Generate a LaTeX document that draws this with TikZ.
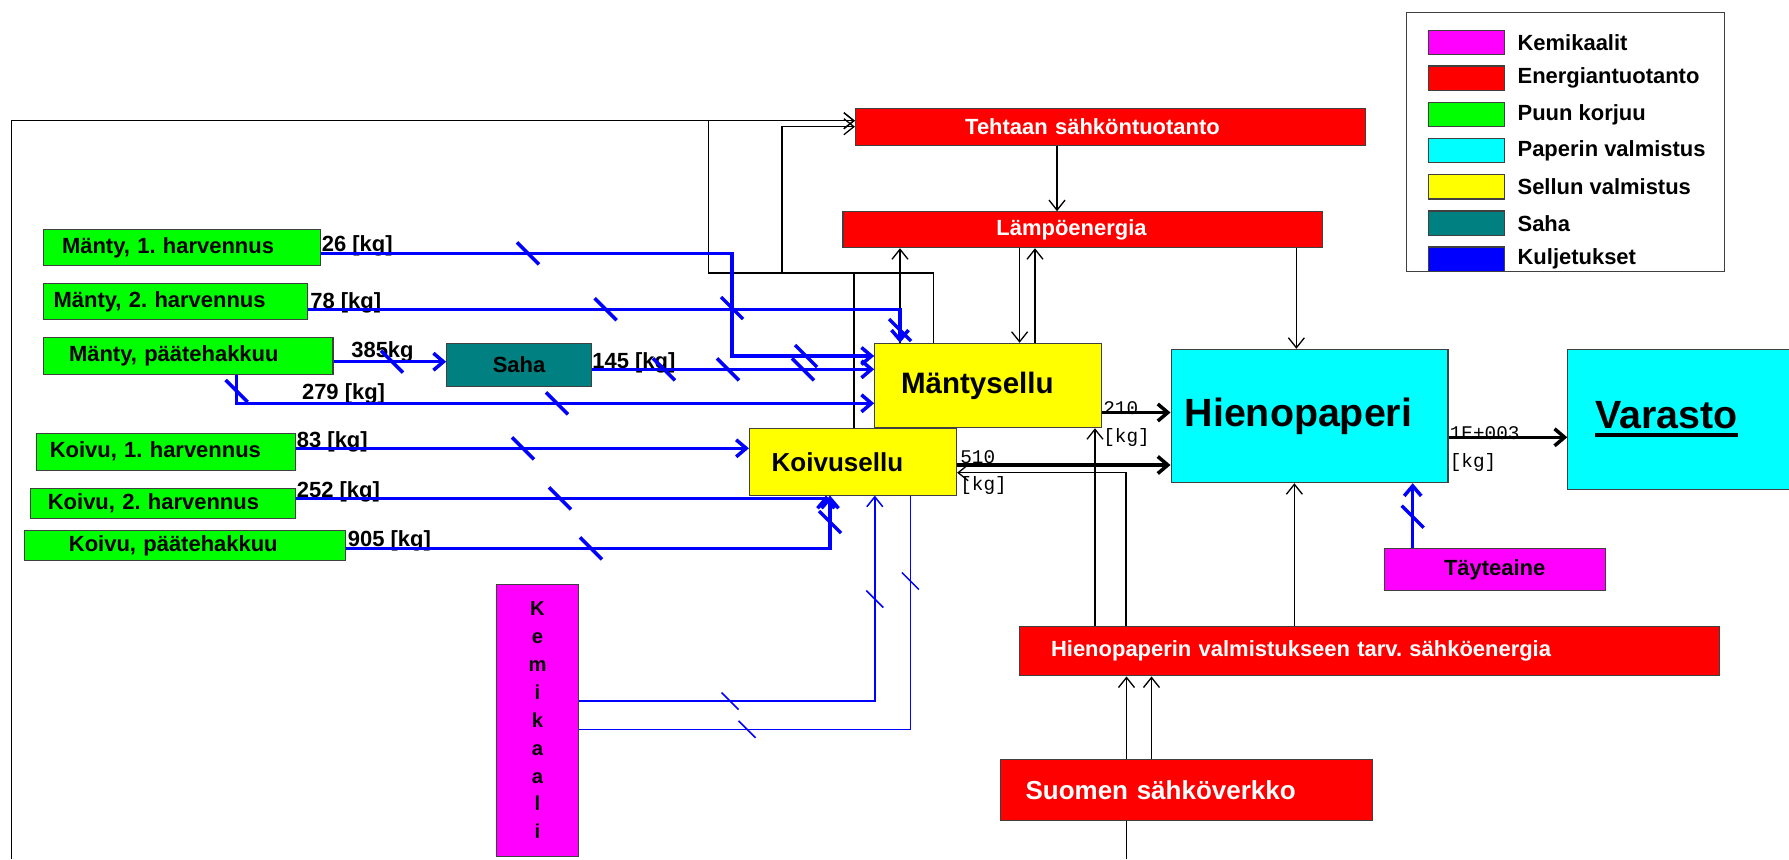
\documentclass[tikz,border=0pt]{standalone}
\usepackage{fontspec}
\setmainfont{Liberation Sans}
\newfontfamily\kgfont{Liberation Mono}
\usetikzlibrary{arrows.meta}
\definecolor{sahateal}{RGB}{0,128,128}
\definecolor{chemcol}{RGB}{255,0,255}
\definecolor{energycol}{RGB}{255,0,0}
\definecolor{woodcol}{RGB}{0,255,0}
\definecolor{papercol}{RGB}{0,255,255}
\definecolor{pulpcol}{RGB}{255,255,0}
\definecolor{transcol}{RGB}{0,0,255}
\frenchspacing

\begin{document}
\begin{tikzpicture}[x=0.02cm,y=-0.02cm,
  box/.style={draw=black!75,line width=0.6pt,inner sep=0pt,font=\bfseries\fontsize{12.5}{15}\selectfont},
  textpad/.style 2 args={inner xsep=#1,text width=#2,align=left},
  wood/.style={box,fill=woodcol},
  pulp/.style={box,fill=pulpcol},
  paper/.style={box,fill=papercol},
  energy/.style={box,fill=energycol,text=white},
  chem/.style={box,fill=chemcol},
  swatch/.style={draw=black!75,line width=0.6pt,inner sep=0pt,minimum width=1.514cm,minimum height=0.488cm},
  legendtext/.style={inner sep=0pt,xshift=0.254cm,font=\bfseries\fontsize{12.5}{15}\selectfont},
  amount/.style={anchor=base west,inner sep=0pt,font=\bfseries\fontsize{12.5}{15}\selectfont},
  kgtext/.style={anchor=west,align=left,inner sep=0pt,font=\kgfont\fontsize{11}{15.5}\selectfont},
  flow/.style={draw=transcol,line width=2pt,-{Straight Barb[length=2mm,width=3.4mm]}},
  chemflow/.style={draw=transcol,line width=0.85pt,-{Straight Barb[length=2mm,width=3.2mm]}},
  chemline/.style={draw=transcol,line width=0.85pt},
  power/.style={draw=black,line width=0.75pt,-{Straight Barb[length=2mm,width=3.2mm]}},
  powerline/.style={draw=black,line width=0.75pt},
  mass/.style={draw=black,line width=2pt,-{Straight Barb[length=2mm,width=3.4mm]}},
  flowtick/.style={draw=transcol,line width=2pt},
  chemtick/.style={draw=transcol,line width=0.85pt}]
\clip (0,0) rectangle (1789,859);

% legend
\node[draw=black!75,line width=0.6pt,minimum width=6.352cm,minimum height=5.188cm] (legend) at (1565.5,142) {};
\node[swatch,fill=chemcol,label={[legendtext]east:Kemikaalit}] (sw1) at (1466.2,42.5) {};
\node[swatch,fill=energycol,label={[legendtext]east:Energiantuotanto}] (sw2) at (1466.2,78.2) {};
\node[swatch,fill=woodcol,label={[legendtext]east:Puun korjuu}] (sw3) at (1466.2,114.7) {};
\node[swatch,fill=papercol,label={[legendtext]east:Paperin valmistus}] (sw4) at (1466.2,150.7) {};
\node[swatch,fill=pulpcol,label={[legendtext]east:Sellun valmistus}] (sw5) at (1466.2,186.8) {};
\node[swatch,fill=sahateal,label={[legendtext]east:Saha}] (sw6) at (1466.2,223.2) {};
\node[swatch,fill=transcol,label={[legendtext]east:Kuljetukset}] (sw7) at (1466.2,259.2) {};

% puun korjuu
\node[wood,textpad={0.38cm}{4.786cm},minimum height=0.728cm] (m1) at (181.7,247.5) {Mänty, 1. harvennus};
\node[wood,textpad={0.212cm}{4.87cm},minimum height=0.728cm] (m2) at (175.4,301.5) {Mänty, 2. harvennus};
\node[wood,textpad={0.52cm}{4.76cm},minimum height=0.732cm] (m3) at (188,356) {Mänty, päätehakkuu};
\node[wood,textpad={0.266cm}{4.646cm},minimum height=0.734cm] (k1) at (165.9,451.7) {Koivu, 1. harvennus};
\node[wood,textpad={0.344cm}{4.606cm},minimum height=0.6cm] (k2) at (163,503.3) {Koivu, 2. harvennus};
\node[wood,textpad={0.894cm}{4.642cm},minimum height=0.614cm] (k3) at (185,545.4) {Koivu, päätehakkuu};
\node[box,fill=sahateal,minimum width=2.894cm,minimum height=0.854cm] (saha) at (519,364.7) {Saha};

% sellu, paperi
\node[pulp,textpad={0.528cm}{3.478cm},minimum height=1.688cm,font=\bfseries\fontsize{16.8}{20}\selectfont] (ms) at (988,385.5) {Mäntysellu};
\node[pulp,textpad={0.446cm}{3.252cm},minimum height=1.334cm,font=\bfseries\fontsize{14.8}{18}\selectfont] (ks) at (853,461.7) {Koivusellu};
\node[paper,textpad={0.274cm}{4.992cm},minimum height=2.668cm,font=\bfseries\fontsize{22.4}{26}\selectfont] (hp) at (1309.5,416) {Hienopaperi};
\node[paper,textpad={0.554cm}{3.438cm},minimum height=2.8cm,font=\bfseries\fontsize{22.4}{26}\selectfont] (var) at (1681.4,419.3) {\vtop{\hbox{Varasto}\kern0.8mm\hrule height0.8mm}};
\node[chem,minimum width=4.428cm,minimum height=0.848cm] (tay) at (1494.7,569.5) {Täyteaine};
\node[chem,minimum width=1.646cm,minimum height=5.434cm,align=center,font=\bfseries\fontsize{11.5}{15.9}\selectfont] (kem) at (537.5,720.2) {K\\e\\m\\i\\k\\a\\a\\l\\i};

% energia
\node[energy,textpad={2.196cm}{5.816cm},minimum height=0.734cm] (teh) at (1110.6,126.7) {Tehtaan sähköntuotanto};
\node[energy,textpad={3.07cm}{3.45cm},minimum height=0.72cm] (lampo) at (1082.7,229.7) {Lämpöenergia};
\node[energy,textpad={0.632cm}{12.736cm},minimum height=0.986cm] (hvs) at (1369.4,651.3) {Hienopaperin valmistukseen tarv. sähköenergia};
\node[energy,textpad={0.51cm}{6.428cm},minimum height=1.214cm,font=\bfseries\fontsize{14.8}{18}\selectfont] (suomi) at (1186.2,789.7) {Suomen sähköverkko};

% amounts
\node[amount] (a26) at (321.5,251.5) {26 [kg]};
\node[amount] (a78) at (310,308) {78 [kg]};
\node[amount] (a385) at (351,357.3) {385kg};
\node[amount] (a145) at (592,368.3) {145 [kg]};
\node[amount] (a279) at (301.7,399.3) {279 [kg]};
\node[amount] (a83) at (296.6,447.7) {83 [kg]};
\node[amount] (a252) at (296.6,497.3) {252 [kg]};
\node[amount] (a905) at (347.6,546.7) {905 [kg]};
\node[kgtext] (a210) at (1103,424) {210\\{}[kg]};
\node[kgtext] (a510) at (960,472.5) {510\\{}[kg]};
\node[kgtext] (a1e) at (1449.5,449) {1E+003\\{}[kg]};

% energy lines
\coordinate (loopend) at (11.5,859);
\coordinate (gridout) at (1126.5,859);
\draw[power] (loopend) |- (teh.west |- 0,120.7);
\draw[power] (ms.north -| 933.3,0) |- (708.5,273) |- (teh.west |- 0,120.7);
\draw[power] (ks.north -| 854,0) |- (782,273) |- (teh.west |- 0,126.7);
\draw[power] (teh.south -| 1057,0) -- (lampo.north -| 1057,0);
\draw[power] (lampo.south -| 1019.6,0) -- (ms.north -| 1019.6,0);
\draw[power] (ms.north -| 1035,0) -- (lampo.south -| 1035,0);
\draw[power] (ms.north -| 900,0) -- (lampo.south -| 900,0);
\draw[power] (lampo.south -| 1296.4,0) -- (hp.north -| 1296.4,0);
\draw[power] (hvs.north -| 1095,0) -- (ms.south -| 1095,0);
\draw[power] (hvs.north -| 1126,0) |- (ks.east |- 0,472.7);
\draw[power] (hvs.north -| 1294.4,0) -- (hp.south -| 1294.4,0);
\draw[power] (suomi.north -| 1126.5,0) -- (hvs.south -| 1126.5,0);
\draw[power] (suomi.north -| 1151.5,0) -- (hvs.south -| 1151.5,0);
\draw[powerline] (suomi.south -| 1126.5,0) -- (gridout);

% mass flows
\draw[mass] (ms.east |- 0,412.5) -- (hp.west |- 0,412.5);
\draw[mass] (ks.east |- 0,465) -- (hp.west |- 0,465);
\draw[mass] (hp.east |- 0,437.3) -- (var.west |- 0,437.3);

% transports
\draw[flow] (m1.east |- 0,253.3) -| (732,356) -- (ms.west |- 0,356);
\draw[flow] (m2.east |- 0,309.3) -| (ms.north -| 900,0);
\draw[flow] (m3.east |- 0,361.7) -- (saha.west |- 0,361.7);
\draw[flow] (saha.east |- 0,369.3) -- (ms.west |- 0,369.3);
\draw[flow] (m3.south -| 236.7,0) |- (ms.west |- 0,403.3);
\draw[flow] (k1.east |- 0,448.3) -- (ks.west |- 0,448.3);
\draw[flow] (k2.east |- 0,498.3) -| (ks.south -| 826,0);
\draw[flow] (k3.east |- 0,548.3) -| (ks.south -| 830,0);
\draw[flow] (tay.north -| 1412.7,0) -- (hp.south -| 1412.7,0);
\draw[chemflow] (kem.east |- 0,701) -| (ks.south -| 874.8,0);
\draw[chemline] (kem.east |- 0,729.3) -| (ks.south -| 910.4,0);

% ticks
\draw[flowtick] (528,253.3) ++(-11,-11) -- ++(22,22);
\draw[flowtick] (605.6,309.3) ++(-11,-11) -- ++(22,22);
\draw[flowtick] (732,308) ++(-11,-11) -- ++(22,22);
\draw[flowtick] (900,330) ++(-11,-11) -- ++(22,22);
\draw[flowtick] (392,361.7) ++(-11,-11) -- ++(22,22);
\draw[flowtick] (664,369.3) ++(-11,-11) -- ++(22,22);
\draw[flowtick] (728,369.3) ++(-11,-11) -- ++(22,22);
\draw[flowtick] (803,369.3) ++(-11,-11) -- ++(22,22);
\draw[flowtick] (806,356) ++(-11,-11) -- ++(22,22);
\draw[flowtick] (236.7,391) ++(-11,-11) -- ++(22,22);
\draw[flowtick] (557,403.3) ++(-11,-11) -- ++(22,22);
\draw[flowtick] (523,448.3) ++(-11,-11) -- ++(22,22);
\draw[flowtick] (560,498.3) ++(-11,-11) -- ++(22,22);
\draw[flowtick] (591,548.3) ++(-11,-11) -- ++(22,22);
\draw[flowtick] (830,522) ++(-11,-11) -- ++(22,22);
\draw[flowtick] (1412.7,516.7) ++(-11,-11) -- ++(22,22);
\draw[chemtick] (730,701) ++(-8.5,-8.5) -- ++(17,17);
\draw[chemtick] (747,729.3) ++(-8.5,-8.5) -- ++(17,17);
\draw[chemtick] (874.8,599) ++(-8.5,-8.5) -- ++(17,17);
\draw[chemtick] (910.4,581) ++(-8.5,-8.5) -- ++(17,17);
\end{tikzpicture}
\end{document}
